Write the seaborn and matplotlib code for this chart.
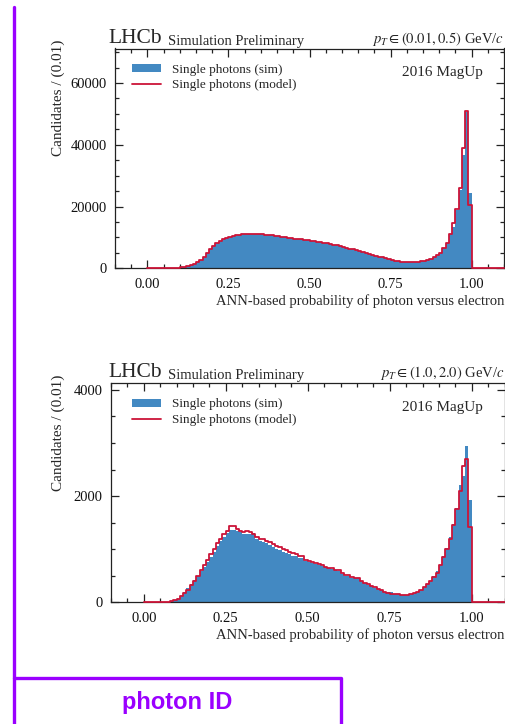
import numpy as np
import pandas as pd
import matplotlib
matplotlib.use("Agg")
import matplotlib.pyplot as plt
from matplotlib.patches import Patch
from matplotlib.lines import Line2D
from matplotlib.ticker import MultipleLocator, FuncFormatter
import seaborn as sns

# ---------------------------------------------------------------- data
# 100 bins of width 0.01 on [0, 1]; counts per bin
bin_width = 0.01
bin_range = (0.0, 1.1)

low_pt_model = [
    0, 0, 0, 0, 0, 0, 30, 60, 120, 200,
    300, 450, 700, 1000, 1400, 2000, 2800, 3800, 5000, 6200,
    7300, 8200, 8900, 9500, 9900, 10250, 10500, 10700, 10850, 10950,
    11050, 11100, 11100, 11100, 11050, 11000, 10900, 10800, 10700, 10550,
    10400, 10250, 10100, 9950, 9800, 9650, 9500, 9350, 9200, 9050,
    8900, 8750, 8600, 8450, 8250, 8050, 7850, 7650, 7400, 7150,
    6900, 6650, 6400, 6150, 5900, 5600, 5300, 5000, 4700, 4400,
    4100, 3800, 3500, 3200, 2950, 2700, 2450, 2250, 2100, 2000,
    1950, 1950, 2000, 2100, 2250, 2450, 2750, 3150, 3650, 4300,
    5100, 6500, 8100, 11100, 14600, 19150, 25970, 38960, 50850, 20550,
]
low_pt_sim = [
    0, 0, 0, 0, 0, 0, 30, 60, 120, 200,
    300, 450, 700, 1000, 1400, 2000, 2800, 3800, 5000, 6200,
    7300, 8200, 8900, 9500, 9900, 10250, 10500, 10700, 10850, 10950,
    11050, 11100, 11100, 11100, 11050, 11000, 10900, 10800, 10700, 10550,
    10400, 10250, 10100, 9950, 9800, 9650, 9500, 9350, 9200, 9050,
    8900, 8750, 8600, 8450, 8250, 8050, 7850, 7650, 7400, 7150,
    6900, 6650, 6400, 6150, 5900, 5600, 5300, 5000, 4700, 4400,
    4100, 3800, 3500, 3200, 2950, 2700, 2450, 2250, 2100, 2000,
    1950, 1950, 2000, 2100, 2250, 2450, 2750, 3150, 3650, 4300,
    5100, 6500, 8100, 11100, 13500, 19000, 25500, 36800, 50500, 24550,
]

high_pt_model = [
    0, 0, 0, 0, 0, 0, 5, 10, 20, 35,
    60, 110, 170, 230, 320, 410, 500, 600, 700, 800,
    900, 1010, 1120, 1200, 1290, 1350, 1440, 1430, 1380, 1340,
    1320, 1350, 1330, 1280, 1230, 1200, 1190, 1160, 1130, 1100,
    1060, 1040, 1000, 980, 950, 920, 900, 870, 880, 800,
    780, 760, 740, 720, 700, 670, 650, 640, 610, 600,
    550, 510, 505, 470, 460, 455, 400, 370, 340, 300,
    280, 250, 225, 200, 180, 165, 160, 150, 140, 135,
    130, 150, 175, 200, 240, 280, 340, 400, 480, 560,
    700, 850, 1000, 1200, 1450, 1750, 2100, 2560, 2690, 1410,
]
high_pt_sim = [
    0, 0, 0, 0, 0, 0, 5, 10, 20, 35,
    70, 120, 190, 260, 350, 420, 490, 580, 670, 760,
    850, 950, 1060, 1150, 1230, 1300, 1370, 1370, 1350, 1320,
    1290, 1290, 1280, 1310, 1190, 1160, 1140, 1110, 1080, 1040,
    1000, 990, 950, 930, 900, 880, 870, 840, 830, 780,
    760, 740, 720, 700, 690, 660, 640, 630, 600, 590,
    540, 500, 500, 460, 450, 450, 395, 365, 335, 300,
    275, 250, 225, 200, 185, 200, 160, 150, 140, 135,
    130, 150, 175, 200, 240, 290, 340, 410, 490, 580,
    710, 870, 1020, 1220, 1480, 1780, 2200, 2370, 2945, 1925,
]

x_ticks = [0.00, 0.25, 0.50, 0.75, 1.00]
low_pt_yticks = [0, 20000, 40000, 60000]
high_pt_yticks = [0, 2000, 4000]

panel_titles = [r"$p_T \in (0.01, 0.5)$ GeV/$c$", r"$p_T \in (1.0, 2.0)$ GeV/$c$"]
legend_labels = ["Single photons (sim)", "Single photons (model)"]
x_label = "ANN-based probability of photon versus electron"
y_label = "Candidates / (0.01)"
sample_label = "2016 MagUp"
frame_label = "photon ID"

# ---------------------------------------------------------------- style
sns.set_theme(style="ticks")
plt.rcParams["font.family"] = ["Liberation Serif", "DejaVu Serif"]
plt.rcParams["mathtext.fontset"] = "stix"

BLUE = "#4389c2"
RED = "#cc1438"
PURPLE = "#9a00ff"
INK = "#222222"

W, H = 505, 724
fig = plt.figure(figsize=(W / 100, H / 100), dpi=100)


def px_axes(left, top, right, bottom):
    return fig.add_axes([left / W, 1 - bottom / H, (right - left) / W, (bottom - top) / H])


centers = np.arange(len(low_pt_model)) * bin_width + bin_width / 2


def draw_panel(ax, sim, model, yticks, yminor, title, box):
    left, top, right, bottom = box
    aw, ah = right - left, bottom - top
    df = pd.DataFrame({"x": centers, "sim": sim, "model": model})
    sns.histplot(data=df, x="x", weights="sim", binwidth=bin_width, binrange=bin_range,
                 element="bars", fill=True, color=BLUE, alpha=1.0, linewidth=0, ax=ax)
    sns.histplot(data=df, x="x", weights="model", binwidth=bin_width, binrange=bin_range,
                 element="step", fill=False, color=RED, linewidth=1.3, zorder=3,
                 clip_on=False, ax=ax)
    ax.set_xlim(-0.1, 1.1)
    ax.set_ylim(0, 1.4 * max(max(sim), max(model)))
    ax.set_xticks(x_ticks)
    ax.set_xticklabels([f"{t:.2f}" for t in x_ticks])
    ax.xaxis.set_minor_locator(MultipleLocator(0.05))
    ax.set_yticks(yticks)
    ax.yaxis.set_minor_locator(MultipleLocator(yminor))
    ax.yaxis.set_major_formatter(FuncFormatter(lambda v, p: f"{int(v)}"))
    ax.tick_params(which="both", direction="in", top=True, right=True,
                   color=INK, width=0.9, labelsize=10.5, labelcolor="#111111")
    ax.tick_params(which="major", length=6)
    ax.tick_params(which="minor", length=3)
    ax.tick_params(axis="x", pad=7)
    ax.tick_params(axis="y", pad=6)
    for s in ax.spines.values():
        s.set_color(INK)
        s.set_linewidth(0.9)
    ax.set_xlabel(x_label, fontsize=10.5, loc="right", labelpad=2)
    ax.set_ylabel(y_label, fontsize=11, loc="top")
    ax.yaxis.set_label_coords((65 - left) / aw, 1 + 9 / ah)
    ax.text((108 - left) / aw, 1.004, "LHCb", transform=ax.transAxes, fontsize=15.5,
            ha="left", va="bottom")
    ax.text((168 - left) / aw, 1.004, "Simulation Preliminary", transform=ax.transAxes,
            fontsize=10.5, ha="left", va="bottom")
    ax.text(1.0, 1.004, title, transform=ax.transAxes, fontsize=10.5,
            ha="right", va="bottom")
    ax.text((483 - left) / aw, 1 - 24 / ah, sample_label, transform=ax.transAxes,
            fontsize=11, ha="right", va="center")
    handles = [Patch(facecolor=BLUE, edgecolor="none"),
               Line2D([], [], color=RED, linewidth=1.3)]
    ax.legend(handles, legend_labels, loc="upper left",
              bbox_to_anchor=((132 - left) / aw, 1 - 15 / ah),
              frameon=False, fontsize=9.5, handlelength=2.2, handleheight=0.55,
              labelspacing=0.3, borderaxespad=0, borderpad=0, handletextpad=0.8)


top_box = (115, 48.5, 504, 268.3)
ax_top = px_axes(*top_box)
draw_panel(ax_top, low_pt_sim, low_pt_model, low_pt_yticks, 5000, panel_titles[0], top_box)

bot_box = (111, 383.3, 504.5, 602.3)
ax_bot = px_axes(*bot_box)
draw_panel(ax_bot, high_pt_sim, high_pt_model, high_pt_yticks, 500, panel_titles[1], bot_box)

# ---------------------------------------------------------------- purple frame
fig.add_artist(Line2D([14 / W, 14 / W], [1 - 7 / H, 0], color=PURPLE, linewidth=2.4,
                      transform=fig.transFigure))
fig.add_artist(Line2D([14 / W, 340.5 / W, 340.5 / W], [1 - 678 / H, 1 - 678 / H, 0],
                      color=PURPLE, linewidth=2.4, transform=fig.transFigure))
fig.text(177 / W, 1 - 703 / H, frame_label, color=PURPLE, fontsize=17,
         fontweight="bold", family=["Liberation Sans", "DejaVu Sans"],
         ha="center", va="center")

fig.savefig("out.png", dpi=100)
